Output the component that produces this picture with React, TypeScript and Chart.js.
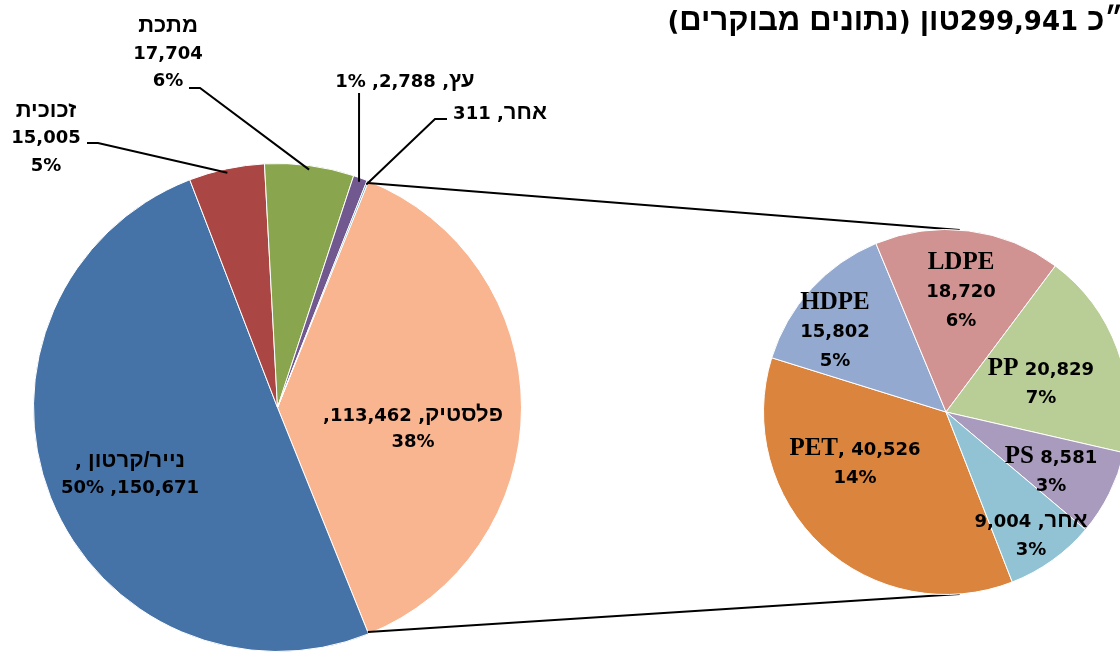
import React, { useEffect, useRef, useState } from "react";
import { Chart, registerables } from "chart.js";

Chart.register(...registerables);

// ---------------- data ----------------
const mainCategories = ["פלסטיק", "נייר/קרטון", "זכוכית", "מתכת", "עץ", "אחר"];
const mainValues = [113462, 150671, 15005, 17704, 2788, 311];

const plasticCategories = ["PET", "HDPE", "LDPE", "PP", "PS", "אחר"];
const plasticValues = [40526, 15802, 18720, 20829, 8581, 9004];

const titleBefore = "סה״כ ";
const titleAfter = "טון (נתונים מבוקרים)";

// ---------------- styles / layout ----------------
const mainColors = ["#F9B590", "#4572A7", "#AA4643", "#89A54E", "#71588F", "#4198AF"];
const plasticColors = ["#DB843D", "#93A9CF", "#D19392", "#B9CD96", "#A99BBD", "#92C3D4"];

// "|" separates label lines
const mainLabelFormats = ["{n}, {v},|{p}", "{n} ,|{v}, {p}", "{n}|{v}|{p}", "{n}|{v}|{p}", "{n}, {v}, {p}", "{n}, {v}"];
const plasticLabelFormats = ["{n}, {v}|{p}", "{n}|{v}|{p}", "{n}|{v}|{p}", "{n} {v}|{p}", "{n} {v}|{p}", "{n}, {v}|{p}"];

// label block centres, relative to the pie centre (px)
const mainLabelOffsets = [
  [135.5, 20],
  [-147.5, 66],
  [-231.5, -270.5],
  [-109.5, -355],
  [127.5, -328],
  [222.5, -296],
];
const plasticLabelOffsets = [
  [-91, 50.5],
  [-111, -81],
  [15, -121],
  [95, -29.5],
  [105, 58],
  [85, 122.5],
];
// leader lines (relative to the label centre)
const mainLeaders: any[] = [
  null,
  null,
  { elbow: [52, 6], end: [41, 6] },
  { elbow: [32, 35.5], end: [21, 35.5] },
  { vertical: true, endY: 13.5 },
  { elbow: [-65, 7.5], end: [-53, 7.5] },
];

const W = 1200;
const H = 652;
const SANS = "'DejaVu Sans', sans-serif";
const HEB_FONT = "'Liberation Sans', 'DejaVu Sans', sans-serif";
const SERIF = "'Liberation Serif', 'DejaVu Serif', serif";
const MAIN_LH = 27.5;
const SUB_LH = 29;
const plasticRotation = 158.7;
const connectorTilt = 4.3; // degrees right of vertical on the secondary pie

const sum = (a: number[]) => a.reduce((s, v) => s + v, 0);
const fmt = (v: number) => v.toLocaleString("en-US");
const HEB = /[\u0590-\u05FF]/;
const grandTotal = sum(mainValues);
const mainRotation = 90 - (180 * mainValues[0]) / grandTotal;

function buildLines(format: string, name: string, value: number) {
  const pct = Math.round((value / grandTotal) * 100) + "%";
  return format
    .split("|")
    .map((l) => l.replace("{n}", name).replace("{v}", fmt(value)).replace("{p}", pct));
}

type LabelSpec = { key: string; lines: string[]; x: number; y: number; lh: number; rtl: boolean };

function runStyle(t: string, hebSize: number, latSize: number): React.CSSProperties {
  if (HEB.test(t)) return { fontFamily: HEB_FONT, fontSize: hebSize };
  if (/[A-Za-z]/.test(t)) return { fontFamily: SERIF, fontSize: latSize };
  return {};
}

function Runs({ text, hebSize, latSize }: { text: string; hebSize: number; latSize: number }) {
  const parts = text.split(/([\u0590-\u05FF\/]+|[A-Za-z]+)/).filter((t) => t.length > 0);
  return (
    <>
      {parts.map((t, k) => (
        <span key={k} style={runStyle(t, hebSize, latSize)}>
          {t}
        </span>
      ))}
    </>
  );
}

const mainLeaderPlugin = {
  id: "mainLeaders",
  afterDatasetsDraw(chart: any) {
    const ctx = chart.ctx as CanvasRenderingContext2D;
    const arcs = chart.getDatasetMeta(0).data;
    ctx.save();
    ctx.strokeStyle = "#000";
    ctx.lineWidth = 2;
    arcs.forEach((arc: any, i: number) => {
      const leader = mainLeaders[i];
      if (!leader) return;
      const p = arc.getProps(["x", "y", "startAngle", "endAngle", "outerRadius"], true);
      const mid = (p.startAngle + p.endAngle) / 2;
      const lx = p.x + mainLabelOffsets[i][0];
      const ly = p.y + mainLabelOffsets[i][1];
      const r = p.outerRadius - 4;
      const ax = p.x + Math.cos(mid) * r;
      const ay = p.y + Math.sin(mid) * r;
      ctx.beginPath();
      ctx.moveTo(ax, ay);
      if (leader.vertical) {
        ctx.lineTo(ax, ly + leader.endY);
      } else {
        ctx.lineTo(lx + leader.elbow[0], ly + leader.elbow[1]);
        ctx.lineTo(lx + leader.end[0], ly + leader.end[1]);
      }
      ctx.stroke();
    });
    ctx.restore();
  },
};

function makeConnectorPlugin(main: Chart) {
  return {
    id: "connectors",
    beforeDatasetsDraw(chart: any) {
      const ctx = chart.ctx as CanvasRenderingContext2D;
      const split = main.getDatasetMeta(0).data[0] as any;
      const sp = split.getProps(["x", "y", "startAngle", "endAngle", "outerRadius"], true);
      const sub = chart.getDatasetMeta(0).data[0] as any;
      const q = sub.getProps(["x", "y", "outerRadius"], true);
      const tilt = (connectorTilt * Math.PI) / 180;
      const r1 = sp.outerRadius - 2;
      const topA = -Math.PI / 2 + tilt;
      const botA = Math.PI / 2 - tilt;
      ctx.save();
      ctx.strokeStyle = "#000";
      ctx.lineWidth = 2;
      ctx.beginPath();
      ctx.moveTo(sp.x + Math.cos(sp.startAngle) * r1, sp.y + Math.sin(sp.startAngle) * r1);
      ctx.lineTo(q.x + Math.cos(topA) * q.outerRadius, q.y + Math.sin(topA) * q.outerRadius);
      ctx.moveTo(sp.x + Math.cos(sp.endAngle) * r1, sp.y + Math.sin(sp.endAngle) * r1);
      ctx.lineTo(q.x + Math.cos(botA) * q.outerRadius, q.y + Math.sin(botA) * q.outerRadius);
      ctx.stroke();
      ctx.restore();
    },
  };
}

export default function App() {
  const mainRef = useRef<HTMLCanvasElement>(null);
  const subRef = useRef<HTMLCanvasElement>(null);
  const [labels, setLabels] = useState<LabelSpec[]>([]);

  useEffect(() => {
    if (!mainRef.current || !subRef.current) return;
    const main = new Chart(mainRef.current, {
      type: "pie",
      data: {
        labels: mainCategories,
        datasets: [{ data: mainValues, backgroundColor: mainColors, borderColor: "#ffffff", borderWidth: 1 }],
      },
      options: {
        responsive: false,
        animation: false,
        devicePixelRatio: 1,
        events: [],
        rotation: mainRotation,
        layout: { padding: { left: 33, top: 163, right: W - 33 - 489, bottom: 0 } },
        plugins: { legend: { display: false }, tooltip: { enabled: false }, title: { display: false } },
      },
      plugins: [mainLeaderPlugin],
    } as any);

    const sub = new Chart(subRef.current, {
      type: "pie",
      data: {
        labels: plasticCategories,
        datasets: [{ data: plasticValues, backgroundColor: plasticColors, borderColor: "#ffffff", borderWidth: 1 }],
      },
      options: {
        responsive: false,
        animation: false,
        devicePixelRatio: 1,
        events: [],
        rotation: plasticRotation,
        layout: { padding: { left: 763, top: 229, right: W - 763 - 366, bottom: H - 229 - 366 } },
        plugins: { legend: { display: false }, tooltip: { enabled: false }, title: { display: false } },
      },
      plugins: [makeConnectorPlugin(main)],
    } as any);

    const specs: LabelSpec[] = [];
    main.getDatasetMeta(0).data.forEach((arc: any, i: number) => {
      const p = arc.getProps(["x", "y"], true);
      specs.push({
        key: "m" + i,
        lines: buildLines(mainLabelFormats[i], mainCategories[i], mainValues[i]),
        x: p.x + mainLabelOffsets[i][0],
        y: p.y + mainLabelOffsets[i][1],
        lh: MAIN_LH,
        rtl: HEB.test(mainCategories[i]),
      });
    });
    sub.getDatasetMeta(0).data.forEach((arc: any, i: number) => {
      const p = arc.getProps(["x", "y"], true);
      specs.push({
        key: "s" + i,
        lines: buildLines(plasticLabelFormats[i], plasticCategories[i], plasticValues[i]),
        x: p.x + plasticLabelOffsets[i][0],
        y: p.y + plasticLabelOffsets[i][1],
        lh: SUB_LH,
        rtl: HEB.test(plasticCategories[i]),
      });
    });
    setLabels(specs);

    return () => {
      sub.destroy();
      main.destroy();
    };
  }, []);

  const canvasStyle: React.CSSProperties = { position: "absolute", left: 0, top: 0, width: W, height: H };
  const title = `${titleBefore}${fmt(grandTotal)}${titleAfter}`;
  return (
    <div
      style={{
        position: "fixed",
        left: 0,
        top: 0,
        width: 1120,
        height: 652,
        overflow: "hidden",
        background: "#ffffff",
        color: "#000",
        fontFamily: SANS,
        fontWeight: "bold",
      }}
    >
      <canvas ref={mainRef} width={W} height={H} style={canvasStyle} />
      <canvas ref={subRef} width={W} height={H} style={canvasStyle} />
      <div
        dir="rtl"
        style={{
          position: "absolute",
          right: -46,
          top: 20,
          transform: "translateY(-50%)",
          whiteSpace: "nowrap",
          fontSize: 26,
          lineHeight: "28px",
        }}
      >
        <Runs text={title} hebSize={31} latSize={31} />
      </div>
      {labels.map((s) =>
        s.lines.map((line, j) => (
          <div
            key={s.key + "-" + j}
            dir={s.rtl ? "rtl" : "ltr"}
            style={{
              position: "absolute",
              left: s.x,
              top: s.y + (j - (s.lines.length - 1) / 2) * s.lh,
              transform: "translate(-50%, -50%)",
              whiteSpace: "nowrap",
              fontSize: 18,
              lineHeight: "20px",
            }}
          >
            <Runs text={line} hebSize={22} latSize={25} />
          </div>
        ))
      )}
    </div>
  );
}
